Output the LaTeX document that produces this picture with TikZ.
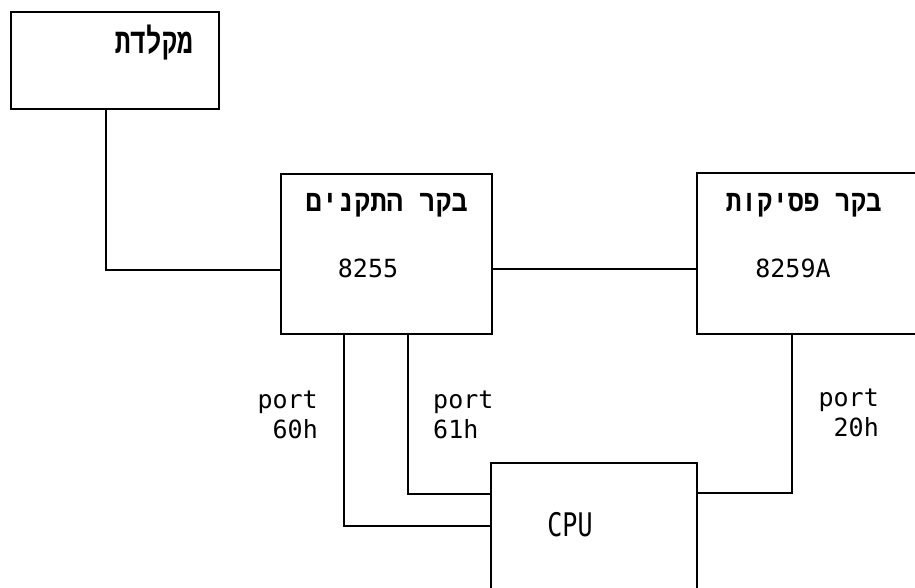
\documentclass[tikz,border=0pt]{standalone}
\usepackage{fontspec}
\setmainfont{DejaVu Sans Mono}
\newfontfamily\hebfont[Script=Hebrew]{Liberation Mono}
\TeXXeTstate=1
\begin{document}
\begin{tikzpicture}[x=1pt,y=-1pt,
  box/.style={draw, line width=2pt, inner sep=0pt, anchor=north west},
  wire/.style={line width=2pt},
  lat/.style={font=\fontsize{25}{30}\selectfont, inner sep=0pt},
  heb/.style={font=\hebfont\bfseries\fontsize{26}{30}\selectfont, inner sep=0pt}]
\useasboundingbox (0,0) rectangle (915,588);
\fill[white] (0,0) rectangle (915,588);
\clip (0,0) rectangle (915,588);
% boxes
\node[box, minimum width=208pt, minimum height=97pt] (kb) at (10,11) {};
\node[box, minimum width=211pt, minimum height=160pt] (dev) at (280,173) {};
\node[box, minimum width=240pt, minimum height=161pt] (pic) at (696,172) {};
\node[box, minimum width=206pt, minimum height=160pt] (cpu) at (490,462) {};
% texts
\node[heb, anchor=east] (kbt) at (193,43) {\scalebox{1}[1.35]{\beginR מקלדת\endR}};
\node[heb, anchor=east] (devt) at (468,205) {\scalebox{1.04}[1.15]{\beginR בקר התקנים\endR}};
\node[lat] (devn) at (368,268) {8255};
\node[heb, anchor=east] (pict) at (882,205) {\scalebox{1}[1.15]{\beginR בקר פסיקות\endR}};
\node[lat] (picn) at (793,268) {8259A};
\node[lat] (cput) at (570,525) {\scalebox{1}[1.3]{CPU}};
\node[lat, align=right, anchor=east] (p60) at (318,415) {port\\60h};
\node[lat, align=left, anchor=west] (p61) at (433,415) {port\\61h};
\node[lat, align=right, anchor=east] (p20) at (879,413) {port\\20h};
% helper coordinates
\coordinate (xkb) at (106,0);
\coordinate (ykb) at (0,270);
\coordinate (ydp) at (0,269);
\coordinate (x60) at (344,0);
\coordinate (y60) at (0,526);
\coordinate (x61) at (408,0);
\coordinate (y61) at (0,494);
\coordinate (x20) at (792,0);
\coordinate (y20) at (0,493);
% connectors
\draw[wire] (kb.south -| xkb) |- (dev.west |- ykb);
\draw[wire] (dev.east |- ydp) -- (pic.west |- ydp);
\draw[wire] (dev.south -| x60) |- (cpu.west |- y60);
\draw[wire] (dev.south -| x61) |- (cpu.west |- y61);
\draw[wire] (pic.south -| x20) |- (cpu.east |- y20);
\end{tikzpicture}
\end{document}
